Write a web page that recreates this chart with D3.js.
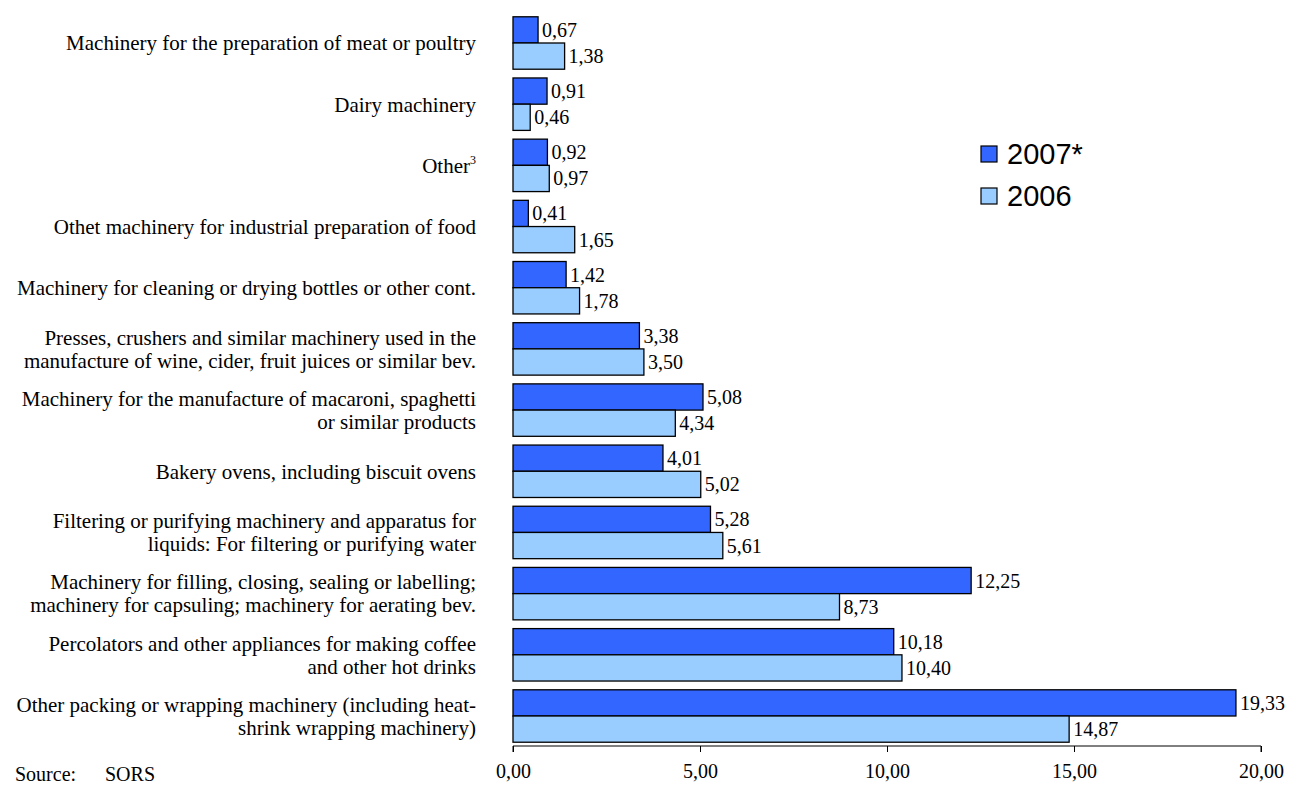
<!DOCTYPE html>
<html><head><meta charset="utf-8">
<script src="https://cdn.jsdelivr.net/npm/d3@7"></script>
<style>body{margin:0;background:#fff}svg{display:block}</style>
</head><body>
<script>
const categories = [
  ["Machinery for the preparation of meat or poultry"],
  ["Dairy machinery"],
  ["Other"],
  ["Othet machinery for industrial preparation of food"],
  ["Machinery for cleaning or drying bottles or other cont."],
  ["Presses, crushers and similar machinery used in the", "manufacture of wine, cider, fruit juices or similar bev."],
  ["Machinery for the manufacture of macaroni, spaghetti", "or similar products"],
  ["Bakery ovens, including biscuit ovens"],
  ["Filtering or purifying machinery and apparatus for", "liquids: For filtering or purifying water"],
  ["Machinery for filling, closing, sealing or labelling;", "machinery for capsuling; machinery for aerating bev."],
  ["Percolators and other appliances for making coffee", "and other hot drinks"],
  ["Other packing or wrapping machinery (including heat-", "shrink wrapping machinery)"]
];
const values2007 = [0.67, 0.91, 0.92, 0.41, 1.42, 3.38, 5.08, 4.01, 5.28, 12.25, 10.18, 19.33];
const values2006 = [1.38, 0.46, 0.97, 1.65, 1.78, 3.50, 4.34, 5.02, 5.61, 8.73, 10.40, 14.87];
const seriesNames = ["2007*", "2006"];
const colors = ["#3366FF", "#99CCFF"];
const tickValues = [0, 5, 10, 15, 20];
const sourceParts = ["Source:", "SORS"];

const W = 1289, H = 787;
const serif = "'Liberation Serif', 'Times New Roman', serif";
const sans = "'Liberation Sans', Arial, sans-serif";
const svg = d3.select("body").append("svg").attr("width", W).attr("height", H);
const fmt = v => v.toFixed(2).replace(".", ",");

const x = d3.scaleLinear().domain([0, 20]).range([513, 1261]);
const y = d3.scaleBand().domain(d3.range(categories.length)).range([12.5, 746.5]).paddingInner(0.143).paddingOuter(0.07);
const sub = d3.scaleBand().domain([0, 1]).range([0, y.bandwidth()]);

const series = [values2007, values2006];
const g = svg.append("g");
series.forEach((vals, si) => {
  g.selectAll(".b" + si).data(vals).join("rect")
    .attr("x", x(0)).attr("y", (d, i) => y(i) + sub(si))
    .attr("width", d => x(d) - x(0)).attr("height", sub.bandwidth())
    .attr("fill", colors[si]).attr("stroke", "#000").attr("stroke-width", 1.3);
  g.selectAll(".t" + si).data(vals).join("text")
    .attr("x", d => x(d) + 4).attr("y", (d, i) => y(i) + sub(si) + sub.bandwidth() / 2)
    .attr("dy", "0.35em").attr("font-family", serif)
    .attr("font-size", 20).attr("fill", "#000").text(d => fmt(d));
});

// category labels
categories.forEach((lines, i) => {
  const cy = y(i) + y.bandwidth() / 2;
  const t = svg.append("text").attr("text-anchor", "end")
    .attr("font-family", serif).attr("font-size", 21).attr("fill", "#000");
  const lh = 23;
  lines.forEach((ln, k) => {
    t.append("tspan").attr("x", 476).attr("y", cy + (k - (lines.length - 1) / 2) * lh).attr("dy", "0.35em").text(ln);
  });
  if (i === 2) {
    t.append("tspan").attr("font-size", 12).attr("dy", "-0.7em").text("3");
  }
});

// axis
const axis = d3.axisBottom(x).tickValues(tickValues).tickSize(6).tickFormat(d => fmt(d));
const ag = svg.append("g").attr("transform", "translate(0,746)").call(axis);
ag.select(".domain").attr("stroke", "#000").attr("stroke-width", 1).attr("d", `M${x(0)},6V0H${x(20)}V6`);
ag.selectAll(".tick line").attr("stroke", "#000");
ag.selectAll(".tick text").attr("font-family", serif)
  .attr("font-size", 20).attr("fill", "#000").attr("y", 18).attr("dy", "0.71em");

// legend
const lg = svg.append("g");
seriesNames.forEach((n, i) => {
  const ly = 146 + i * 42;
  lg.append("rect").attr("x", 981).attr("y", ly).attr("width", 16).attr("height", 16)
    .attr("fill", colors[i]).attr("stroke", "#000").attr("stroke-width", 1.2);
  lg.append("text").attr("x", 1007).attr("y", ly + 8).attr("dy", "0.36em")
    .attr("font-family", sans).attr("font-size", 29).attr("fill", "#000").text(n);
});

const st = svg.append("text").attr("font-family", serif).attr("font-size", 20).attr("fill", "#000");
st.append("tspan").attr("x", 15).attr("y", 781).text(sourceParts[0]);
st.append("tspan").attr("x", 105).attr("y", 781).text(sourceParts[1]);
</script>
</body></html>
